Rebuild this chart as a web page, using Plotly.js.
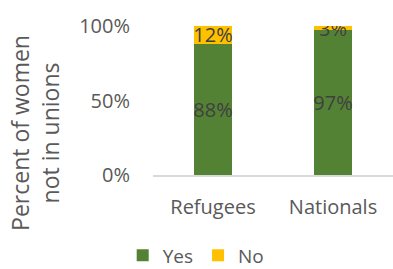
<!DOCTYPE html>
<html><head><meta charset="utf-8">
<script src="https://cdn.plot.ly/plotly-3.0.1.min.js"></script>
<style>html,body{margin:0;padding:0;background:#fff}</style>
</head><body>
<div id="chart" style="width:393px;height:269px"></div>
<script>
var categories = ["Refugees", "Nationals"];
var yesValues = [88, 97];
var noValues = [12, 3];
var yesLabels = ["88%", "97%"];
var noLabels = ["12%", "3%"];
var yTitle = "Percent of women<br>not in unions";

var font = "Open Sans, Liberation Sans, sans-serif";
var data = [
  {type: "bar", name: "Yes", x: categories, y: yesValues, text: yesLabels,
   textposition: "inside", insidetextanchor: "middle", textangle: 0, constraintext: "none",
   marker: {color: "#548235"}, textfont: {color: "#404040", size: 20, family: font},
   hoverinfo: "none"},
  {type: "bar", name: "No", x: categories, y: noValues, text: noLabels,
   textposition: "inside", insidetextanchor: "middle", textangle: 0, constraintext: "none",
   marker: {color: "#FFC000"}, textfont: {color: "#404040", size: 20, family: font},
   hoverinfo: "none"}
];
var layout = {
  width: 393, height: 269,
  margin: {l: 153, r: 0, t: 26, b: 94, autoexpand: false},
  barmode: "stack", bargap: 0.69,
  paper_bgcolor: "#fff", plot_bgcolor: "#fff",
  font: {family: font, color: "#595959", size: 20},
  xaxis: {showline: true, linecolor: "#d9d9d9", linewidth: 1.5, ticks: "",
          tickfont: {size: 20, color: "#595959"}, fixedrange: true, ticklabelstandoff: 13},
  yaxis: {range: [0, 100], tickvals: [0, 50, 100], ticktext: ["0%", "50%", "100%"],
          showgrid: false, zeroline: false, ticks: "", ticklen: 0, ticklabelstandoff: 22,
          tickfont: {size: 20, color: "#595959"}},
  annotations: [{text: yTitle, xref: "paper", yref: "paper", x: -0.492, y: 0.282,
                 xanchor: "center", yanchor: "middle", textangle: -90, showarrow: false,
                 font: {size: 23, color: "#595959", family: font}}],
  showlegend: true,
  legend: {orientation: "h", x: 0.18, xanchor: "center", y: -0.54, yanchor: "middle",
           font: {size: 19, color: "#595959"}, traceorder: "normal", itemwidth: 30}
};
Plotly.newPlot("chart", data, layout, {displayModeBar: false, staticPlot: true});
</script>
</body></html>
